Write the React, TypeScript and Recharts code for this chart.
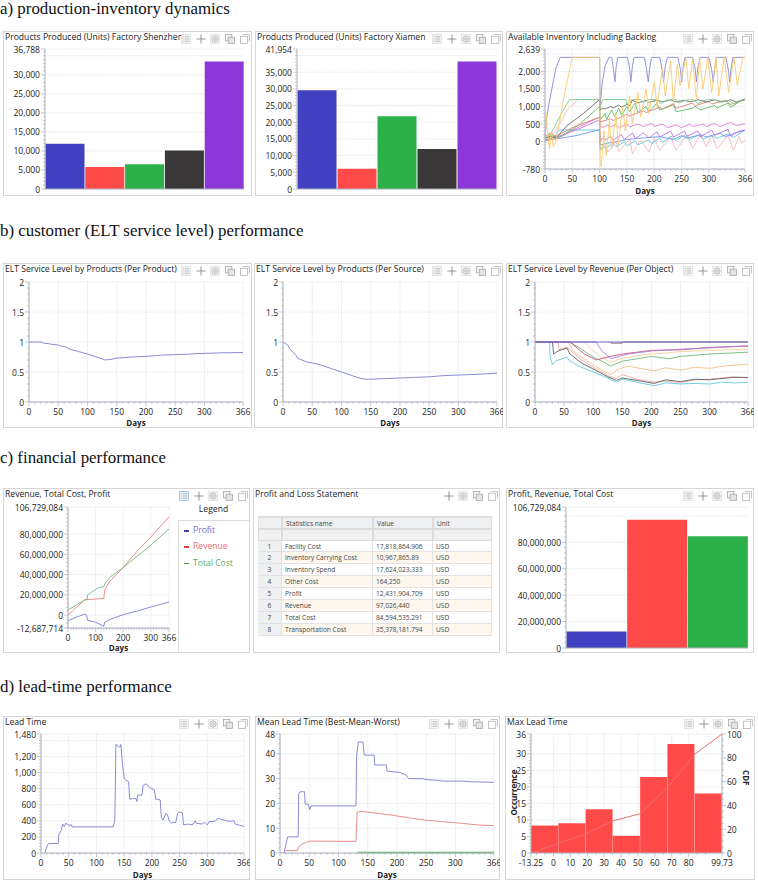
import React from 'react';
import { ComposedChart, BarChart, Bar, Line, XAxis, YAxis, CartesianGrid, Cell } from 'recharts';

type Pt = [number, number];
const FONT = '"Open Sans", "Noto Sans", sans-serif';
const BLUE = '#4040c0', RED = '#ff4a4a', GREEN = '#2cb04a', BLACK = '#3a3838', PURPLE = '#8c38d8';
const LBLUE = '#7d7dd2', LRED = '#e98080', LGREEN = '#72bb7e';

const barCategories = ['A', 'B', 'C', 'D', 'E'];
const barColors = [BLUE, RED, GREEN, BLACK, PURPLE];
const shenzhenValues = [11900, 5800, 6500, 10100, 33500];
const xiamenValues = [29600, 6100, 21800, 12000, 38200];
const plrNames = ['Profit', 'Revenue', 'Total Cost'];
const plrValues = [12431905, 97026440, 84594535];
const plrColors = [BLUE, RED, GREEN];

const days50 = [0, 50, 100, 150, 200, 250, 300, 366];
const days100 = [0, 100, 200, 300, 366];

const invBlue: Pt[] = [[0,100],[3,700],[10,1300],[20,2100],[28,2400],[100,2400],[101,1050],[105,1700],[110,2150],[117,2400],[122,2400],[125,2100],[128,1700],[130,2100],[133,2400],[151,2400],[155,2100],[157,1700],[160,2150],[163,2400],[182,2400],[186,2050],[189,1700],[192,2150],[195,2400],[210,2400],[215,2000],[217,1700],[220,2150],[224,2400],[243,2400],[248,2050],[250,1700],[253,2150],[256,2400],[270,2400],[275,2050],[277,1700],[280,2150],[284,2400],[300,2400],[305,2050],[308,1700],[311,2150],[314,2400],[331,2400],[336,2000],[338,1700],[341,2150],[344,2400],[366,2400]];
const invOrange: Pt[] = [[0,100],[3,800],[4,400],[8,-200],[12,300],[15,-150],[20,0],[35,1300],[50,2400],[100,2400],[101,-700],[103,-700],[108,300],[112,-400],[118,600],[122,-200],[130,800],[134,-100],[142,1000],[147,300],[155,1300],[160,500],[170,1400],[175,700],[185,1500],[190,800],[200,1700],[205,1000],[215,2100],[220,1300],[230,2300],[235,1100],[242,2200],[247,1600],[258,2400],[263,1500],[270,2350],[277,1200],[283,2400],[289,1500],[298,2400],[305,1400],[313,2400],[318,1300],[328,2400],[336,1400],[346,2400],[352,1600],[362,2400],[366,2400]];
const invGreenA: Pt[] = [[0,100],[10,200],[30,800],[45,1200],[100,1200],[101,1000],[106,1200],[148,1200],[150,1050],[155,1150],[160,1200],[175,1200],[180,1100],[190,1200],[205,1200],[212,1080],[222,1180],[240,1200],[245,1100],[260,1190],[270,1200],[280,1080],[295,1190],[310,1200],[320,1120],[335,1180],[345,1080],[355,1150],[366,1200]];
const invDark: Pt[] = [[0,100],[10,150],[20,100],[40,450],[70,800],[100,1200],[101,900],[105,950],[110,930],[120,1000],[125,960],[135,1040],[140,980],[150,1060],[155,1020],[160,1180],[170,1100],[185,1180],[190,1120],[205,1180],[215,1130],[230,1190],[240,1130],[255,1180],[265,1130],[280,1190],[295,1130],[310,1190],[325,1130],[340,1190],[350,1130],[366,1210]];
const invRed: Pt[] = [[0,150],[10,250],[20,150],[50,400],[100,700],[101,560],[120,650],[125,600],[150,780],[155,730],[180,880],[185,830],[210,980],[215,930],[235,1080],[240,950],[270,1100],[275,1020],[300,1150],[305,1070],[330,1180],[340,1060],[366,1190]];
const invGreenB: Pt[] = [[0,100],[10,180],[25,120],[60,450],[100,1000],[101,620],[110,800],[113,640],[122,900],[127,720],[135,950],[140,750],[150,1000],[155,850],[165,1100],[170,830],[185,1000],[190,850],[205,1100],[210,900],[235,1050],[240,850],[270,950],[275,1000],[285,900],[310,1030],[315,960],[335,1100],[340,980],[360,1180],[366,1210]];
const invMagenta: Pt[] = [[0,100],[15,150],[25,100],[60,400],[100,700],[101,450],[105,400],[115,470],[120,420],[130,480],[135,400],[150,500],[155,420],[170,500],[180,430],[195,520],[200,430],[215,500],[225,400],[240,480],[250,400],[265,500],[270,430],[290,500],[295,430],[310,520],[320,430],[340,550],[350,460],[366,510]];
const invPurple: Pt[] = [[0,50],[25,150],[60,350],[100,620],[101,0],[105,100],[110,50],[120,150],[125,40],[140,200],[145,60],[160,250],[165,80],[180,250],[190,100],[205,280],[210,130],[230,300],[235,130],[255,300],[260,150],[280,300],[285,140],[305,330],[310,180],[335,350],[340,150],[355,300],[366,330]];
const invSky: Pt[] = [[0,30],[30,100],[60,180],[100,340],[101,-100],[110,-60],[130,0],[150,60],[170,90],[190,120],[210,140],[235,60],[250,170],[260,100],[285,200],[295,130],[320,240],[330,140],[350,260],[366,320]];
const invCyan: Pt[] = [[0,50],[15,100],[25,330],[100,330],[101,-250],[106,-130],[110,-200],[125,-50],[130,-150],[145,0],[150,-120],[165,20],[170,-90],[190,50],[195,-60],[210,100],[215,-30],[230,150],[240,30],[255,180],[265,60],[280,180],[290,80],[305,170],[315,100],[335,220],[345,120],[366,330]];
const invPink: Pt[] = [[0,100],[20,300],[40,900],[60,1200],[100,1200],[101,-250],[110,-100],[115,-300],[130,0],[135,-280],[155,80],[160,-350],[175,50],[190,-300],[200,100],[210,-250],[230,150],[240,-250],[260,200],[270,-200],[285,220],[295,-150],[305,180],[315,-200],[335,180],[345,-250],[355,150],[360,-50],[366,50]];

const eltProduct: Pt[] = [[0,1],[22,1],[25,0.98],[35,0.97],[40,0.96],[50,0.95],[55,0.93],[62,0.92],[70,0.88],[85,0.84],[100,0.8],[112,0.76],[125,0.72],[130,0.7],[140,0.71],[150,0.73],[175,0.75],[200,0.76],[225,0.78],[250,0.79],[275,0.8],[300,0.81],[330,0.82],[366,0.825]];
const eltSource: Pt[] = [[0,1],[8,0.95],[12,0.88],[15,0.85],[22,0.78],[26,0.72],[30,0.71],[40,0.67],[50,0.65],[60,0.63],[70,0.6],[85,0.55],[100,0.5],[115,0.45],[130,0.4],[140,0.38],[150,0.38],[175,0.39],[200,0.4],[225,0.41],[250,0.42],[275,0.44],[300,0.45],[330,0.46],[366,0.48]];

const revCyan: Pt[] = [[0,1],[25,1],[26,0.75],[30,0.62],[35,0.68],[55,0.75],[58,0.7],[75,0.6],[100,0.5],[125,0.4],[140,0.33],[150,0.38],[175,0.33],[205,0.27],[225,0.32],[250,0.3],[275,0.31],[300,0.3],[320,0.33],[345,0.32],[366,0.33]];
const revBlack: Pt[] = [[0,1],[30,1],[32,0.8],[40,0.85],[55,0.9],[60,0.8],[80,0.65],[100,0.55],[125,0.42],[140,0.36],[150,0.4],[175,0.36],[205,0.31],[225,0.37],[250,0.34],[275,0.38],[300,0.37],[340,0.41],[366,0.41]];
const revPink: Pt[] = [[0,1],[40,1],[41,0.87],[55,0.92],[62,0.85],[80,0.7],[100,0.58],[125,0.44],[140,0.39],[150,0.46],[175,0.38],[205,0.33],[225,0.35],[250,0.32],[275,0.37],[300,0.38],[340,0.42],[366,0.4]];
const revOrange: Pt[] = [[0,1],[58,1],[65,0.85],[80,0.75],[100,0.62],[120,0.5],[130,0.46],[145,0.55],[160,0.6],[175,0.57],[205,0.52],[225,0.57],[250,0.53],[275,0.58],[300,0.56],[325,0.6],[366,0.63]];
const revGreen: Pt[] = [[0,1],[60,1],[80,0.88],[100,0.75],[115,0.68],[130,0.6],[150,0.68],[175,0.72],[200,0.76],[230,0.72],[250,0.76],[300,0.8],[366,0.83]];
const revPeach: Pt[] = [[0,1],[85,1],[100,0.85],[115,0.75],[130,0.66],[150,0.73],[175,0.77],[200,0.8],[230,0.82],[250,0.84],[300,0.86],[366,0.88]];
const revCrimson: Pt[] = [[0,1],[60,1],[70,0.92],[85,0.8],[105,0.7],[125,0.75],[150,0.8],[200,0.86],[250,0.87],[300,0.91],[366,0.93]];
const revPurple: Pt[] = [[0,1],[105,1],[115,0.85],[130,0.72],[160,0.8],[200,0.85],[250,0.88],[300,0.9],[366,0.94]];
const revNavy: Pt[] = [[0,1],[366,1]];
const revBrown: Pt[] = [[130,1],[131,0.98],[150,0.98],[152,1],[366,1]];

const profitLine: Pt[] = [[0,-5500000],[30,-2000000],[60,1000000],[68,0],[70,-5000000],[100,-7000000],[130,-11000000],[133,-7000000],[150,-4500000],[200,500000],[250,4000000],[300,8000000],[366,13000000]];
const revenueLine: Pt[] = [[0,0],[20,5000000],[60,15000000],[130,16500000],[133,25000000],[150,33000000],[200,47000000],[250,63000000],[300,77000000],[366,97000000]];
const costLine: Pt[] = [[0,5000000],[60,15000000],[70,15500000],[71,20000000],[110,27000000],[130,28000000],[133,31000000],[150,37000000],[200,47000000],[250,58000000],[300,69000000],[366,85000000]];

const tableRows = [
  ['1', 'Facility Cost', '17,818,864.906', 'USD'],
  ['2', 'Inventory Carrying Cost', '10,967,865.89', 'USD'],
  ['3', 'Inventory Spend', '17,624,023.333', 'USD'],
  ['4', 'Other Cost', '164,250', 'USD'],
  ['5', 'Profit', '12,431,904.709', 'USD'],
  ['6', 'Revenue', '97,026,440', 'USD'],
  ['7', 'Total Cost', '84,594,535.291', 'USD'],
  ['8', 'Transportation Cost', '35,378,181.794', 'USD'],
];

const leadLine: Pt[] = [[7,0],[9,50],[12,100],[14,118],[31,118],[32,220],[37,290],[39,360],[42,330],[45,370],[50,345],[55,350],[56,325],[130,325],[133,400],[134,800],[135,1350],[140,1320],[143,1320],[144,1350],[147,1100],[150,930],[153,905],[158,890],[160,670],[168,680],[172,670],[173,640],[174,720],[182,720],[184,840],[190,860],[195,820],[200,800],[204,790],[207,670],[215,660],[217,440],[220,410],[225,490],[228,480],[231,400],[235,375],[243,380],[246,490],[250,510],[255,500],[257,350],[265,360],[273,350],[278,400],[280,370],[290,360],[295,380],[300,350],[303,390],[310,390],[315,400],[318,430],[325,420],[335,400],[340,395],[348,400],[350,360],[358,345],[366,330]];
const leadWorst: Pt[] = [[7,0],[13,6.5],[31,6.5],[32,24],[34,24.7],[42,24.7],[43,19.7],[48,19.7],[51,17.5],[53,19],[130,19],[131,39],[134,44.8],[142,44.8],[144,39.5],[161,39.5],[162,35.5],[182,35.5],[183,33],[205,32.5],[215,31.5],[220,30],[243,30],[250,29.6],[270,29.3],[280,29],[310,29],[330,28.7],[366,28.5]];
const leadMean: Pt[] = [[7,0],[10,1],[30,1],[32,2.5],[37,3.5],[45,4.3],[52,4.8],[130,4.7],[132,16.5],[140,16.8],[160,16.2],[190,15.3],[220,14.2],[250,13.2],[300,12.2],[340,11.3],[366,11]];
const leadBest: Pt[] = [[133,0.2],[366,0.2]];

const histBins = ['b1', 'b2', 'b3', 'b4', 'b5', 'b6', 'b7'];
const histCounts = [8.3, 9, 13.2, 5.2, 23, 33, 18];
const cdfPoints: Pt[] = [[-13.25,0],[2.9,8],[19,16],[35.2,27],[51.3,33],[67.5,55],[83.6,83],[99.73,100]];

const merge = (series: Record<string, Pt[]>) => {
  const rows = new Map<number, any>();
  Object.entries(series).forEach(([k, pts]) => pts.forEach(([d, v]) => {
    if (!rows.has(d)) rows.set(d, { day: d });
    rows.get(d)[k] = v;
  }));
  return [...rows.values()].sort((a, b) => a.day - b.day);
};
const steps = (lo: number, hi: number, step: number) => {
  const out: number[] = [];
  for (let v = Math.ceil(lo / step) * step; v <= hi; v += step) out.push(v);
  return out;
};
const uniq = (a: number[]) => [...new Set(a)];
const fmt = (v: number) => v.toLocaleString('en-US');

const TICK = '#aab0ba', GRID = '#dfe2e8';
const yTick = (majors: number[], side: 'left' | 'right' = 'left', size = 8.5) => (p: any) => {
  const major = majors.includes(p.payload.value);
  const s = side === 'left' ? -1 : 1;
  return (
    <g>
      <line x1={p.x} x2={p.x + s * (major ? 4 : 2)} y1={p.y} y2={p.y} stroke={TICK} strokeWidth={0.7} />
      {major && <text x={p.x + s * 5} y={p.y} textAnchor={side === 'left' ? 'end' : 'start'} dominantBaseline="central" fontFamily={FONT} fontSize={size} fill="#222">{fmt(p.payload.value)}</text>}
    </g>
  );
};
const xTick = (majors: number[]) => (p: any) => {
  const major = majors.includes(p.payload.value);
  return (
    <g>
      <line x1={p.x} x2={p.x} y1={p.y} y2={p.y + (major ? 4 : 2)} stroke={TICK} strokeWidth={0.7} />
      {major && <text x={p.x} y={p.y + 13} textAnchor="middle" fontFamily={FONT} fontSize={8.5} fill="#222">{p.payload.value}</text>}
    </g>
  );
};
const daysLabel = { value: 'Days', position: 'insideBottom', offset: 2, style: { fontFamily: FONT, fontSize: 8, fontWeight: 700, fill: '#222' } } as any;

const ToolIcon = ({ kind, active }: { kind: number; active?: boolean }) => (
  <svg width={10} height={10} viewBox="0 0 11 11" style={{ display: 'block' }}>
    {kind === 0 && <g stroke="#a8a8a8" strokeWidth={0.8}>
      <rect x={0.5} y={0.5} width={10} height={10} fill={active ? '#e6f1fb' : '#f4f4f4'} stroke={active ? '#8fbbe6' : '#dcdcdc'} />
      <line x1={2} x2={3} y1={3} y2={3} /><line x1={4} x2={9} y1={3} y2={3} />
      <line x1={2} x2={3} y1={5.5} y2={5.5} /><line x1={4} x2={9} y1={5.5} y2={5.5} />
      <line x1={2} x2={3} y1={8} y2={8} /><line x1={4} x2={9} y1={8} y2={8} />
    </g>}
    {kind === 1 && <g stroke="#8a8a8a" strokeWidth={1}><line x1={5.5} x2={5.5} y1={0.5} y2={10.5} /><line x1={0.5} x2={10.5} y1={5.5} y2={5.5} /></g>}
    {kind === 2 && <g fill="none" stroke="#b0b0b0" strokeWidth={0.9}>
      <rect x={0.5} y={0.5} width={10} height={10} fill="#f4f4f4" stroke="#e2e2e2" />
      <circle cx={5.5} cy={5.5} r={3.4} /><circle cx={5.5} cy={5.5} r={1.4} />
    </g>}
    {kind === 3 && <g fill="#f6f6f6" stroke="#ababab" strokeWidth={0.9}>
      <rect x={0.5} y={0.5} width={7} height={7} /><rect x={3.5} y={3.5} width={7} height={7} fill="#e4e4e4" />
    </g>}
    {kind === 4 && <g fill="#fff" stroke="#b8b8b8" strokeWidth={0.9}>
      <rect x={0.5} y={2.5} width={8} height={8} /><path d="M3 0.5H10.5V8" fill="none" />
    </g>}
  </svg>
);
const toolOffsets = [66, 51.5, 37, 22, 7.5];

const Panel = ({ x, y, r, b, title, noList, listActive, children }: any) => (
  <div style={{ position: 'absolute', left: x, top: y, width: r - x, height: b - y, boxSizing: 'border-box', border: '1px solid #d6d6d6', background: '#fff' }}>
    <div style={{ position: 'absolute', left: 1, top: 0, fontFamily: FONT, fontSize: 8.6, lineHeight: '10px', color: '#222', whiteSpace: 'nowrap', width: r - x - 70, overflow: 'hidden' }}>{title}</div>
    {toolOffsets.map((o, i) => (noList && i === 0) ? null : (
      <div key={i} style={{ position: 'absolute', left: r - x - o - 6, top: 2 }}><ToolIcon kind={i} active={i === 0 && listActive} /></div>
    ))}
    <div style={{ position: 'absolute', left: -1, top: -1 }}>{children}</div>
  </div>
);

const Heading = ({ y, children }: any) => (
  <div style={{ position: 'absolute', left: 0, top: y, fontFamily: '"Liberation Serif", serif', fontSize: 16.9, lineHeight: '17px', color: '#111', whiteSpace: 'nowrap' }}>{children}</div>
);

const grid = (h: number[], v: number[]) => (
  <CartesianGrid stroke={GRID} strokeWidth={0.8} strokeDasharray="1.5 1" horizontalValues={h} verticalValues={v} />
);

const frame = (box: number[], plot: number[]) => ({
  width: box[2] - box[0],
  height: box[3] - box[1],
  margin: { top: plot[1] - box[1], right: box[2] - plot[2], bottom: 0, left: 0 },
});

const Bars = ({ box, plot, names, values, colors, max, majors, gridValues, minor, gap = 0.5 }: any) => {
  const data = names.map((n: string, i: number) => ({ name: n, value: values[i] }));
  return (
    <BarChart {...frame(box, plot)} data={data} barCategoryGap={gap} barGap={0}>
      <CartesianGrid stroke={GRID} strokeWidth={0.8} strokeDasharray="1.5 1" vertical={false} horizontalValues={gridValues} />
      <XAxis dataKey="name" tick={false} tickLine={false} height={box[3] - plot[3]} stroke={TICK} />
      <YAxis type="number" domain={[0, max]} ticks={uniq([...gridValues, ...minor])} interval={0} width={plot[0] - box[0]} tickSize={0} tickMargin={0} tickLine={false} stroke={TICK} tick={yTick(majors)} />
      <Bar dataKey="value" isAnimationActive={false}>
        {data.map((_: any, i: number) => <Cell key={i} fill={colors[i]} />)}
      </Bar>
    </BarChart>
  );
};

const Lines = ({ box, plot, series, colors, yDomain, yMajors, yGrid, yMinor, xMajors, xMinorStep = 10, widths = {} }: any) => {
  const xMinor = steps(0, 366, xMinorStep);
  return (
    <ComposedChart {...frame(box, plot)} data={merge(series)}>
      {grid(yGrid, xMajors)}
      <XAxis dataKey="day" type="number" domain={[0, 366]} ticks={uniq([...xMajors, ...xMinor])} interval={0} height={box[3] - plot[3]} tickSize={0} tickMargin={0} tickLine={false} stroke={TICK} tick={xTick(xMajors)} label={daysLabel} />
      <YAxis type="number" domain={yDomain} ticks={uniq([...yGrid, ...yMinor])} interval={0} width={plot[0] - box[0]} tickSize={0} tickMargin={0} tickLine={false} stroke={TICK} tick={yTick(yMajors)} />
      {Object.keys(series).map((k) => (
        <Line key={k} dataKey={k} stroke={colors[k]} strokeWidth={widths[k] ?? 0.9} dot={false} connectNulls isAnimationActive={false} type="linear" />
      ))}
    </ComposedChart>
  );
};

const inventory = { invPink, invCyan, invSky, invPurple, invMagenta, invGreenB, invRed, invDark, invGreenA, invBlue, invOrange };
const inventoryColors = { invPink: '#f2b8b8', invCyan: '#62c7e0', invSky: '#6a9ce8', invPurple: '#bb74e0', invMagenta: '#e878d8', invGreenB: '#58bd68', invRed: '#e08070', invDark: '#6a6a6a', invGreenA: '#80cc8a', invBlue: '#8888d8', invOrange: '#f8cc70' };
const revenueSeries = { revPeach, revOrange, revGreen, revPink, revBlack, revCyan, revCrimson, revPurple, revBrown, revNavy };
const revenueColors = { revPeach: '#f2d09a', revOrange: '#f2c088', revGreen: '#70bb7a', revPink: '#f0a8a8', revBlack: '#606060', revCyan: '#62c8e2', revCrimson: '#c85078', revPurple: '#a880dc', revBrown: '#966a6a', revNavy: '#5c5cc6' };
const eltY = [0, 0.5, 1, 1.5, 2];
const eltMinor = steps(0, 20, 1).map((v) => v / 10);

const finSeries = { profit: profitLine, revenue: revenueLine, cost: costLine };
const finColors = { profit: LBLUE, revenue: LRED, cost: LGREEN };
const legendItems = [['Profit', '#3c3cb4', '#7070c8'], ['Revenue', '#e03c3c', '#e87070'], ['Total Cost', '#2ca04a', '#58ad68']];

const Histogram = ({ box, plot }: any) => {
  const data = histBins.map((b, i) => ({ bin: b, count: histCounts[i] }));
  const cdf = cdfPoints.map(([x, y]) => ({ x, cdf: y }));
  const xMajors = [-13.25, 0, 10, 20, 30, 40, 50, 60, 70, 80, 99.73];
  const yMajors = [0, 5, 10, 15, 20, 25, 30, 36];
  const cdfMajors = [0, 20, 40, 60, 80, 100];
  const f = frame(box, plot);
  return (
    <ComposedChart width={f.width} height={f.height} margin={{ ...f.margin, right: 0 }} data={data} barCategoryGap={0} barGap={0}>
      <CartesianGrid yAxisId="count" xAxisId="num" stroke={GRID} strokeWidth={0.8} strokeDasharray="1.5 1" horizontalValues={yMajors} verticalValues={xMajors} />
      <XAxis xAxisId="bins" dataKey="bin" hide height={0} />
      <XAxis xAxisId="num" dataKey="x" type="number" allowDuplicatedCategory={false} domain={[-13.25, 99.73]} ticks={uniq([...xMajors, ...steps(-10, 90, 5)])} interval={0} height={box[3] - plot[3]} tickSize={0} tickMargin={0} tickLine={false} stroke={TICK} tick={xTick(xMajors)} />
      <YAxis yAxisId="count" type="number" domain={[0, 36]} ticks={uniq([...yMajors, ...steps(0, 36, 1)])} interval={0} width={plot[0] - box[0]} tickSize={0} tickMargin={0} tickLine={false} stroke={TICK} tick={yTick(yMajors)}
        label={{ value: 'Occurrence', angle: -90, position: 'insideLeft', offset: 9, dy: 22, style: { fontFamily: FONT, fontSize: 8, fontWeight: 700, fill: '#222' } }} />
      <YAxis yAxisId="cdf" orientation="right" type="number" domain={[0, 100]} ticks={uniq([...cdfMajors, ...steps(0, 100, 5)])} interval={0} width={box[2] - plot[2]} tickSize={0} tickMargin={0} tickLine={false} stroke={TICK} tick={yTick(cdfMajors, 'right')}
        label={{ value: 'CDF', angle: 90, position: 'insideRight', offset: 9, dy: -8, style: { fontFamily: FONT, fontSize: 8, fontWeight: 700, fill: '#222' } }} />
      <Bar xAxisId="bins" yAxisId="count" dataKey="count" fill={RED} isAnimationActive={false} />
      <Line xAxisId="num" yAxisId="cdf" data={cdf} dataKey="cdf" stroke="#e87070" strokeWidth={1} dot={false} isAnimationActive={false} type="linear" />
    </ComposedChart>
  );
};

const colX = [0, 24, 115, 175, 234];
const PnlTable = () => (
  <div style={{ position: 'absolute', left: 5, top: 17, width: 234, height: 133, fontFamily: FONT, fontSize: 6.6, color: '#444' }}>
    <div style={{ position: 'absolute', left: 0, top: 0, width: 234, height: 12, borderBottom: '1px solid #e2e2e2', boxSizing: 'border-box' }} />
    {[0, 1, 2, 3].map((c) => (
      <div key={c}>
        <div style={{ position: 'absolute', left: colX[c], top: 12, width: colX[c + 1] - colX[c], height: 12, background: '#eef0f1', border: '0.5px solid #dcdcdc', boxSizing: 'border-box', lineHeight: '11px', paddingLeft: 3, whiteSpace: 'nowrap' }}>{['', 'Statistics name', 'Value', 'Unit'][c]}</div>
        <div style={{ position: 'absolute', left: colX[c], top: 24, width: colX[c + 1] - colX[c], height: 11.5, background: '#eef0f1', border: '0.5px solid #dcdcdc', boxSizing: 'border-box' }} />
      </div>
    ))}
    {tableRows.map((row, i) => row.map((cell, c) => (
      <div key={i + '-' + c} style={{ position: 'absolute', left: colX[c], top: 35.5 + i * 11.9, width: colX[c + 1] - colX[c], height: 11.9, background: c === 0 ? '#eef0f1' : i % 2 ? '#fdf7ee' : '#fff', borderBottom: '0.5px solid #e2e2e2', borderRight: '0.5px solid #e2e2e2', boxSizing: 'border-box', lineHeight: '11px', paddingLeft: c === 0 ? 0 : 3, textAlign: c === 0 ? 'center' : 'left', whiteSpace: 'nowrap' }}>{cell}</div>
    )))}
  </div>
);

export default function App() {
  return (
    <div style={{ position: 'absolute', left: 0, top: 0, width: 758, height: 885, background: '#fff', overflow: 'hidden' }}>
      <Heading y={0}>a) production-inventory dynamics</Heading>
      <Heading y={222}>b) customer (ELT service level) performance</Heading>
      <Heading y={449}>c) financial performance</Heading>
      <Heading y={678}>d) lead-time performance</Heading>

      <Panel x={3} y={31} r={252} b={196} title="Products Produced (Units) Factory Shenzhen">
        <Bars box={[3, 31, 252, 196]} plot={[45, 49, 244, 189]} names={barCategories} values={shenzhenValues} colors={barColors} max={36788} majors={[0, 5000, 10000, 15000, 20000, 25000, 30000, 36788]} gridValues={[0, 5000, 10000, 15000, 20000, 25000, 30000, 35000, 36788]} minor={steps(0, 36000, 1000)} />
      </Panel>
      <Panel x={255} y={31} r={503} b={196} title="Products Produced (Units) Factory Xiamen">
        <Bars box={[255, 31, 503, 196]} plot={[297, 49, 497, 189]} names={barCategories} values={xiamenValues} colors={barColors} max={41954} majors={[0, 5000, 10000, 15000, 20000, 25000, 30000, 35000, 41954]} gridValues={[0, 5000, 10000, 15000, 20000, 25000, 30000, 35000, 40000, 41954]} minor={steps(0, 41000, 1000)} />
      </Panel>
      <Panel x={506} y={31} r={754} b={196} title="Available Inventory Including Backlog">
        <Lines box={[506, 31, 754, 196]} plot={[545, 49, 745, 169]} series={inventory} colors={inventoryColors} yDomain={[-780, 2639]} yMajors={[-780, 0, 500, 1000, 1500, 2000, 2639]} yGrid={[-780, -500, 0, 500, 1000, 1500, 2000, 2500, 2639]} yMinor={steps(-700, 2600, 100)} xMajors={days50} />
      </Panel>

      <Panel x={3} y={263} r={252} b={428} title="ELT Service Level by Products (Per Product)">
        <Lines box={[3, 263, 252, 428]} plot={[29, 282, 243, 402]} series={{ eltProduct }} colors={{ eltProduct: LBLUE }} yDomain={[0, 2]} yMajors={eltY} yGrid={eltY} yMinor={eltMinor} xMajors={days50} />
      </Panel>
      <Panel x={254} y={263} r={503} b={428} title="ELT Service Level by Products (Per Source)">
        <Lines box={[254, 263, 503, 428]} plot={[283, 282, 497, 402]} series={{ eltSource }} colors={{ eltSource: LBLUE }} yDomain={[0, 2]} yMajors={eltY} yGrid={eltY} yMinor={eltMinor} xMajors={days50} />
      </Panel>
      <Panel x={506} y={263} r={754} b={428} title="ELT Service Level by Revenue (Per Object)">
        <Lines box={[506, 263, 754, 428]} plot={[535, 282, 748, 402]} series={revenueSeries} colors={revenueColors} yDomain={[0, 2]} yMajors={eltY} yGrid={eltY} yMinor={eltMinor} xMajors={days50} />
      </Panel>

      <Panel x={3} y={488} r={250} b={653} title="Revenue, Total Cost, Profit" listActive>
        <Lines box={[3, 488, 250, 653]} plot={[68, 507, 169, 628]} series={finSeries} colors={finColors} yDomain={[-12687714, 106729084]} yMajors={[-12687714, 0, 20000000, 40000000, 60000000, 80000000, 106729084]} yGrid={[-12687714, 0, 20000000, 40000000, 60000000, 80000000, 106729084]} yMinor={steps(-12000000, 106000000, 4000000)} xMajors={days100} />
        <div style={{ position: 'absolute', left: 175, top: 32, width: 71, height: 132, background: '#fff', borderLeft: '1px solid #dcdcdc', borderTop: '1px solid #dcdcdc', boxSizing: 'border-box' }} />
        <div style={{ position: 'absolute', left: 175, top: 15, width: 71, textAlign: 'center', fontFamily: FONT, fontSize: 8.6, color: '#222' }}>Legend</div>
        {legendItems.map(([name, swatch, text], i) => (
          <div key={name} style={{ position: 'absolute', left: 181, top: 36 + i * 16.3, fontFamily: FONT, fontSize: 8.6, lineHeight: '12px', color: text, whiteSpace: 'nowrap' }}>
            <span style={{ display: 'inline-block', width: 5, height: 1.6, background: swatch, verticalAlign: 'middle', marginRight: 4 }} />{name}
          </div>
        ))}
      </Panel>
      <Panel x={253} y={488} r={500} b={653} title="Profit and Loss Statement" noList>
        <PnlTable />
      </Panel>
      <Panel x={506} y={488} r={754} b={653} title="Profit, Revenue, Total Cost">
        <Bars box={[506, 488, 754, 653]} plot={[566, 507, 748, 648]} names={plrNames} values={plrValues} colors={plrColors} max={106729084} majors={[0, 20000000, 40000000, 60000000, 80000000, 106729084]} gridValues={[0, 20000000, 40000000, 60000000, 80000000, 100000000, 106729084]} minor={steps(0, 106000000, 4000000)} />
      </Panel>

      <Panel x={3} y={716} r={250} b={880} title="Lead Time">
        <Lines box={[3, 716, 250, 880]} plot={[41, 734, 244, 853]} series={{ leadLine }} colors={{ leadLine: LBLUE }} yDomain={[0, 1480]} yMajors={[0, 200, 400, 600, 800, 1000, 1200, 1480]} yGrid={[0, 200, 400, 600, 800, 1000, 1200, 1400, 1480]} yMinor={steps(0, 1480, 40)} xMajors={days50} />
      </Panel>
      <Panel x={255} y={716} r={500} b={880} title="Mean Lead Time (Best-Mean-Worst)">
        <Lines box={[255, 716, 500, 880]} plot={[280, 734, 494, 853]} series={{ leadBest, leadMean, leadWorst }} colors={{ leadBest: '#58b568', leadMean: LRED, leadWorst: LBLUE }} widths={{ leadBest: 1.6 }} yDomain={[0, 48]} yMajors={[0, 10, 20, 30, 40, 48]} yGrid={[0, 10, 20, 30, 40, 48]} yMinor={steps(0, 48, 2)} xMajors={days50} />
      </Panel>
      <Panel x={505} y={716} r={755} b={880} title="Max Lead Time">
        <Histogram box={[505, 716, 755, 880]} plot={[531, 734, 722, 853]} />
      </Panel>
    </div>
  );
}
